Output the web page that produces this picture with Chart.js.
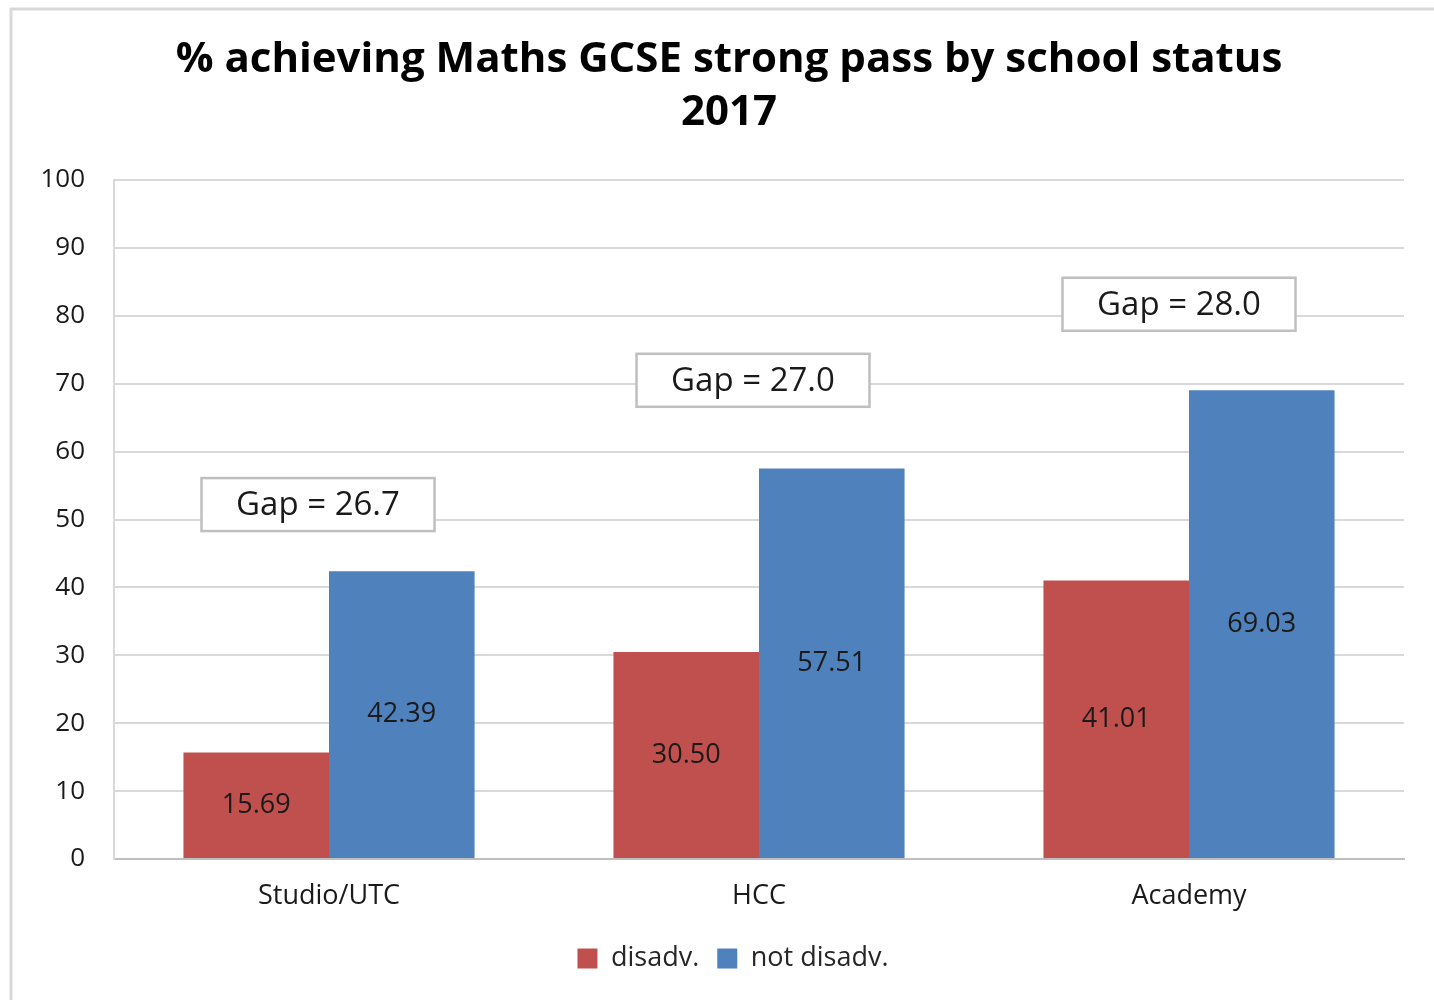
<!DOCTYPE html>
<html>
<head>
<meta charset="utf-8">
<script src="https://cdn.jsdelivr.net/npm/chart.js@4.4.0/dist/chart.umd.min.js"></script>
<style>
  html, body { margin: 0; padding: 0; background: #fff; }
  #wrap { width: 1434px; height: 1000px; position: relative; }
</style>
</head>
<body>
<div id="wrap"><canvas id="gapChart"></canvas></div>
<script>
// chart values
const schoolTypes = ['Studio/UTC', 'HCC', 'Academy'];
const disadv = [15.69, 30.50, 41.01];
const notDisadv = [42.39, 57.51, 69.03];
const gapLabels = ['Gap = 26.7', 'Gap = 27.0', 'Gap = 28.0'];
const yTicks = [0, 10, 20, 30, 40, 50, 60, 70, 80, 90, 100];
const titleLines = ['% achieving Maths GCSE strong pass by school status', '2017'];

// where the gap boxes sit (y in axis units, x offset in px from category centre)
const gapBoxY = [52.2, 70.5, 81.7];
const gapBoxDx = [-11, -6, -10];

const fontFamily = '"Open Sans", Lato, "Liberation Sans", sans-serif';

// outer frame like the spreadsheet chart border
const framePlugin = {
    id: 'frame',
    beforeDraw(chart) {
        const c = chart.ctx;
        c.save();
        c.fillStyle = '#fff';
        c.fillRect(0, 0, chart.width, chart.height);
        c.strokeStyle = '#d9d9d9';
        c.lineWidth = 3;
        c.strokeRect(11, 9, chart.width + 20, chart.height + 20);
        c.restore();
    }
};

// title drawn by hand, it sits a bit right of the canvas centre
const titlePlugin = {
    id: 'manualTitle',
    afterDraw(chart) {
        const c = chart.ctx;
        c.save();
        c.font = 'bold 42px ' + fontFamily;
        c.fillStyle = '#000';
        c.textAlign = 'center';
        c.textBaseline = 'middle';
        c.fillText(titleLines[0], 729, 60);
        c.fillText(titleLines[1], 729, 113);
        c.restore();
    }
};

// nudge the legend right so it lines up with the original
const legendShift = {
    id: 'legendShift',
    afterLayout(chart) {
        if (chart.legend) {
            chart.legend.left += 21;
            chart.legend.right += 21;
        }
    }
};

// value labels in the middle of each bar
const barValuesPlugin = {
    id: 'barValues',
    afterDatasetsDraw(chart) {
        const c = chart.ctx;
        c.save();
        c.font = '27px ' + fontFamily;
        c.fillStyle = '#1a1a1a';
        c.textAlign = 'center';
        c.textBaseline = 'middle';
        chart.data.datasets.forEach((ds, i) => {
            chart.getDatasetMeta(i).data.forEach((bar, j) => {
                const mid = (bar.y + bar.base) / 2;
                c.fillText(ds.data[j].toFixed(2), bar.x, mid);
            });
        });
        c.restore();
    }
};

// "Gap = x" boxes
const gapBoxPlugin = {
    id: 'gapBoxes',
    afterDatasetsDraw(chart) {
        const c = chart.ctx;
        const xs = chart.scales.x, ys = chart.scales.y;
        c.save();
        c.font = '33px ' + fontFamily;
        c.textAlign = 'center';
        c.textBaseline = 'middle';
        gapLabels.forEach((txt, i) => {
            const cx = xs.getPixelForValue(i) + gapBoxDx[i];
            const cy = ys.getPixelForValue(gapBoxY[i]);
            const w = 233, h = 53;
            c.fillStyle = '#fff';
            c.fillRect(cx - w / 2, cy - h / 2, w, h);
            c.strokeStyle = '#bfbfbf';
            c.lineWidth = 2.5;
            c.strokeRect(cx - w / 2, cy - h / 2, w, h);
            c.fillStyle = '#1a1a1a';
            c.fillText(txt, cx, cy + 1);
        });
        c.restore();
    }
};

const ctx = document.getElementById('gapChart').getContext('2d');

const gapChart = new Chart(ctx, {
    type: 'bar',
    data: {
        labels: schoolTypes,
        datasets: [{
            label: 'disadv.',
            data: disadv,
            backgroundColor: '#c0504d',
            borderWidth: 0
        }, {
            label: 'not disadv.',
            data: notDisadv,
            backgroundColor: '#4f81bd',
            borderWidth: 0
        }]
    },
    options: {
        responsive: true,
        maintainAspectRatio: false,
        animation: false,
        categoryPercentage: 0.677,
        barPercentage: 1.0,
        layout: {
            padding: { top: 180, left: 20, right: 30, bottom: 18 }
        },
        plugins: {
            title: { display: false },
            legend: {
                position: 'bottom',
                labels: {
                    color: '#262626',
                    font: { family: fontFamily, size: 27 },
                    boxWidth: 20,
                    boxHeight: 20,
                    padding: 18
                }
            },
            tooltip: { enabled: false }
        },
        scales: {
            x: {
                afterFit(axis) {
                    axis.height = 68;
                },
                grid: { display: false, drawTicks: false },
                border: { color: '#bfbfbf', width: 2 },
                ticks: {
                    color: '#1a1a1a',
                    font: { family: fontFamily, size: 27 },
                    padding: 21
                }
            },
            y: {
                min: 0,
                max: 100,
                afterBuildTicks(axis) {
                    axis.ticks = yTicks.map(v => ({ value: v }));
                },
                afterFit(axis) {
                    axis.width = 94;
                },
                grid: { color: '#d9d9d9', lineWidth: 2, drawTicks: false },
                border: { color: '#d9d9d9', width: 2 },
                ticks: {
                    color: '#1a1a1a',
                    font: { family: fontFamily, size: 26 },
                    padding: 29
                }
            }
        }
    },
    plugins: [framePlugin, legendShift, titlePlugin, barValuesPlugin, gapBoxPlugin]
});
</script>
</body>
</html>
